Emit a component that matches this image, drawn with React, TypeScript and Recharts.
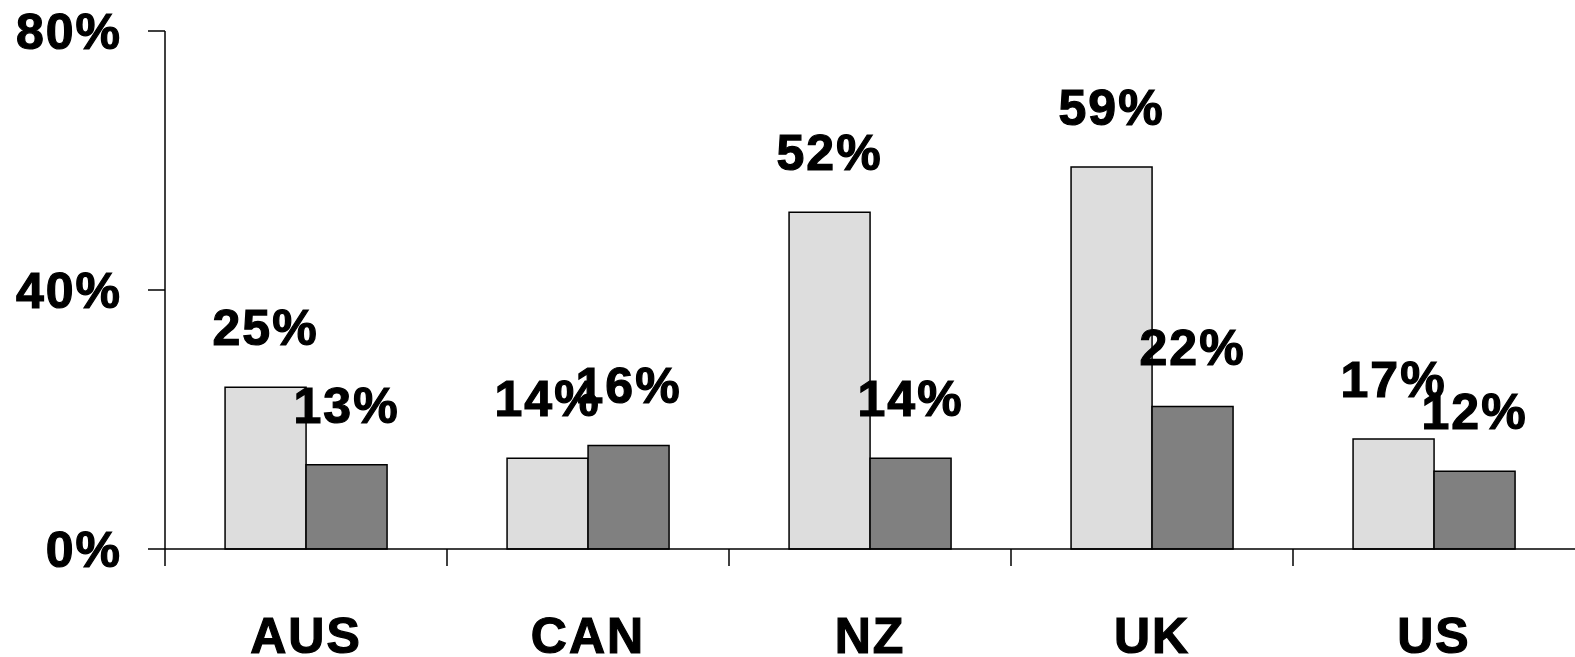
import { BarChart, Bar, XAxis, YAxis, LabelList } from 'recharts';

const categories = ['AUS', 'CAN', 'NZ', 'UK', 'US'];
const lightValues = [25, 14, 52, 59, 17];
const darkValues = [13, 16, 14, 22, 12];
const yTicks = [0, 40, 80];

const data = categories.map((name, i) => ({
    name,
    light: lightValues[i],
    dark: darkValues[i],
}));

const FONT = '"Liberation Sans", Arial, sans-serif';
// heavier, slightly wider bold text like the original
const textStyle = {
    fontFamily: FONT,
    fontWeight: 'bold' as const,
    fontSize: 50,
    fill: '#000',
    stroke: '#000',
    strokeWidth: 1.2,
    letterSpacing: 2,
};

// category ticks sit on the band boundaries, labels in the middle
function CategoryTick(props: any) {
    const { x, y, payload } = props;
    const left = x - (payload.offset || 0);
    return (
        <g>
            <line x1={left} y1={y} x2={left} y2={y + 17} stroke="#000" strokeWidth={1.5} />
            <text x={x} y={y + 104} textAnchor="middle" style={textStyle}>
                {payload.value}
            </text>
        </g>
    );
}

function ValueLabel(props: any) {
    const { x, y, width, value } = props;
    return (
        <text x={x + width / 2} y={y - 42} textAnchor="middle" style={textStyle}>
            {value}%
        </text>
    );
}

function PercentTick(props: any) {
    const { x, y, payload } = props;
    return (
        <text x={x} y={y} dy={18} textAnchor="end" style={textStyle}>
            {payload.value}%
        </text>
    );
}

export default function App() {
    return (
        <div style={{ width: 1575, height: 657, background: '#fff' }}>
            <style>{'body{margin:0}'}</style>
            <BarChart
                width={1575}
                height={657}
                data={data}
                margin={{ top: 31, right: 0, left: 0, bottom: 0 }}
                barCategoryGap="21.3%"
                barGap={0}
            >
                <XAxis
                    dataKey="name"
                    height={108}
                    axisLine={{ stroke: '#000', strokeWidth: 1.5 }}
                    tickLine={false}
                    tickSize={0}
                    tickMargin={0}
                    interval={0}
                    tick={<CategoryTick />}
                />
                <YAxis
                    width={165}
                    domain={[0, 80]}
                    ticks={yTicks}
                    interval={0}
                    tickSize={17}
                    tickMargin={26}
                    axisLine={{ stroke: '#000', strokeWidth: 1.5 }}
                    tickLine={{ stroke: '#000', strokeWidth: 1.5 }}
                    tick={<PercentTick />}
                />
                <Bar dataKey="light" fill="#dddddd" stroke="#000" strokeWidth={1.5} isAnimationActive={false}>
                    <LabelList dataKey="light" content={<ValueLabel />} />
                </Bar>
                <Bar dataKey="dark" fill="#808080" stroke="#000" strokeWidth={1.5} isAnimationActive={false}>
                    <LabelList dataKey="dark" content={<ValueLabel />} />
                </Bar>
            </BarChart>
        </div>
    );
}
